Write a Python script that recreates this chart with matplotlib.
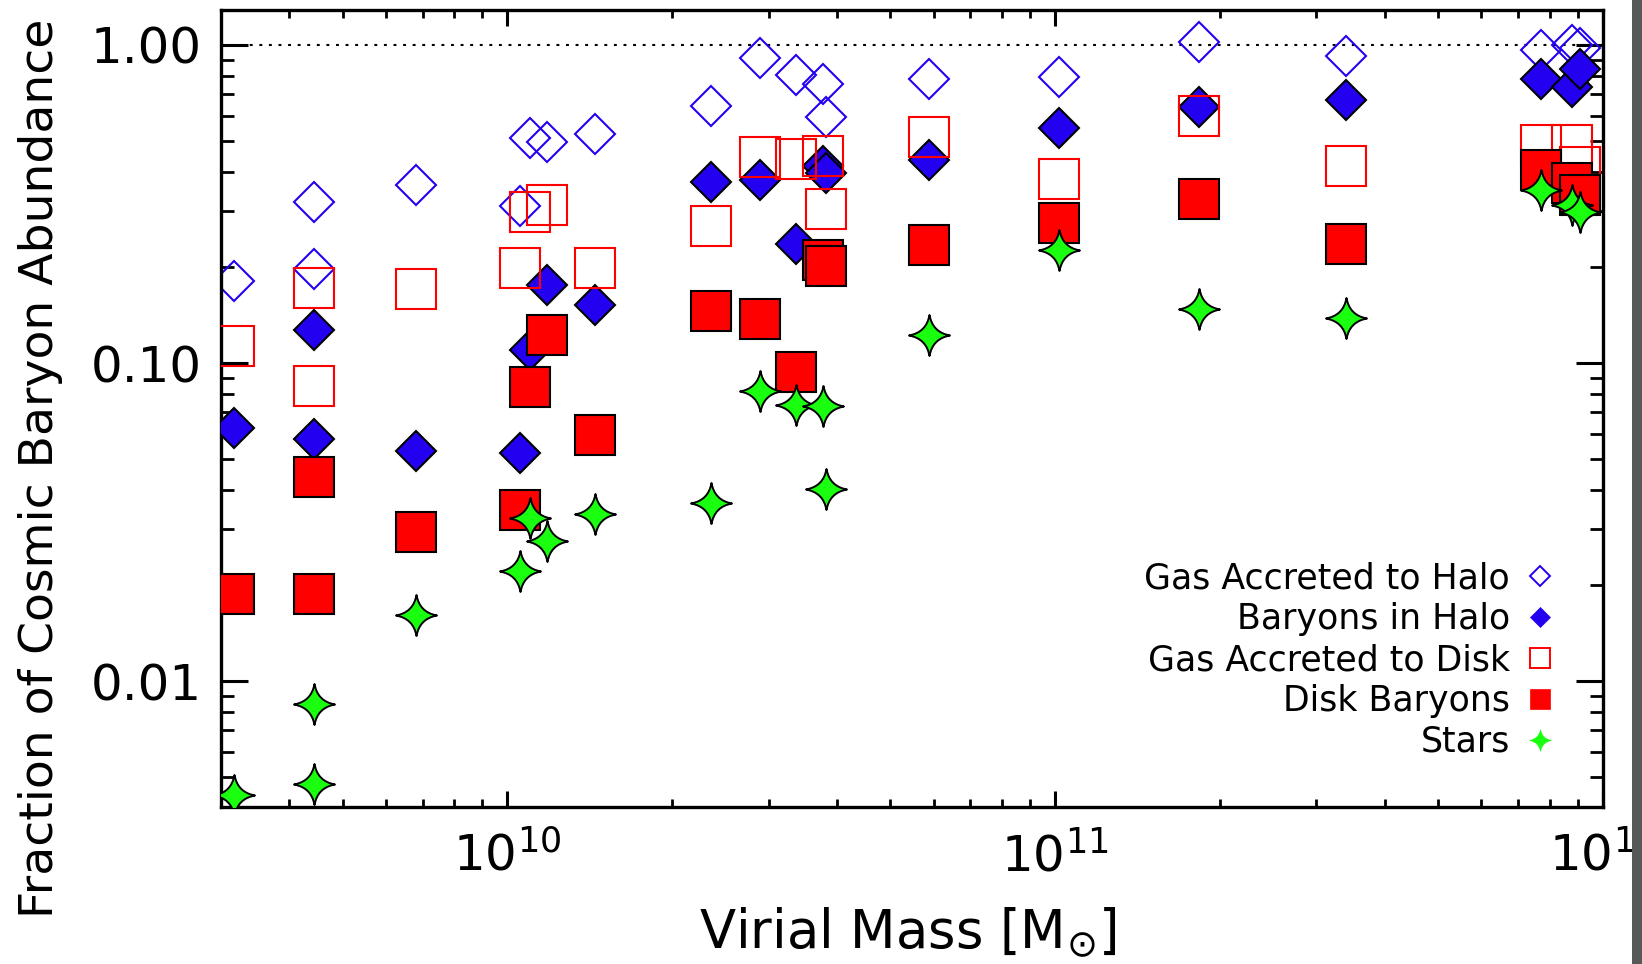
import numpy as np
import matplotlib
matplotlib.use('Agg')
import matplotlib.pyplot as plt
from matplotlib.path import Path
from matplotlib.lines import Line2D
from matplotlib.patches import Rectangle
from matplotlib.ticker import LogLocator, FuncFormatter, NullFormatter

# virial mass of each halo [Msun]
mvir = [3.17e9, 4.43e9, 4.43e9, 6.81e9, 1.053e10, 1.099e10, 1.183e10, 1.443e10,
        2.356e10, 2.894e10, 3.371e10, 3.776e10, 3.819e10, 5.89e10, 1.018e11,
        1.830e11, 3.398e11, 7.70e11, 8.78e11, 9.09e11]

# fractions of the cosmic baryon abundance
gas_acc_halo = [0.181, 0.3215, 0.1975, 0.362, 0.312, 0.509, 0.4965, 0.524,
                0.643, 0.912, 0.807, 0.755, 0.595, 0.78, 0.793,
                1.024, 0.921, 0.962, 1.00, 0.976]
baryons_halo = [0.0623, 0.1267, 0.0576, 0.0528, 0.052, 0.110, 0.1755, 0.152,
                0.372, 0.375, 0.236, 0.417, 0.395, 0.436, 0.5495,
                0.640, 0.670, 0.782, 0.736, 0.839]
gas_acc_disk = [0.113, 0.1725, 0.0847, 0.1705, 0.199, 0.2985, 0.313, 0.199,
                0.269, 0.444, 0.438, 0.447, 0.306, 0.515, 0.379,
                0.598, 0.415, 0.484, 0.485, 0.412]
disk_baryons = [0.0188, 0.0438, 0.0188, 0.0294, 0.0345, 0.0839, 0.1227, 0.0596,
                0.1457, 0.1375, 0.0937, 0.2113, 0.2023, 0.235, 0.275,
                0.327, 0.237, 0.405, 0.3675, 0.3375]
stars = [0.00438, 0.00845, 0.00474, 0.0161, 0.0222, 0.0325, 0.0275, 0.0336,
         0.0364, 0.0816, 0.0738, 0.0734, 0.0402, 0.1227, 0.226,
         0.148, 0.1385, 0.349, 0.314, 0.298]

labels = ['Gas Accreted to Halo', 'Baryons in Halo', 'Gas Accreted to Disk',
          'Disk Baryons', 'Stars']

blue = '#2300f0'
red = '#ff0000'
green = '#1aff10'

# four-pointed star with concave sides
c = 0.15
star = Path([(0, 1), (c, c), (1, 0), (c, -c), (0, -1), (-c, -c), (-1, 0), (-c, c), (0, 1), (0, 1)],
            [Path.MOVETO] + [Path.CURVE3] * 8 + [Path.CLOSEPOLY])

fig = plt.figure(figsize=(16.42, 9.64), dpi=100)
ax = fig.add_axes([0.1346, 0.1632, 0.8415, 0.8261])
ax.set_xscale('log')
ax.set_yscale('log')
ax.set_xlim(3.0e9, 1.0e12)
ax.set_ylim(0.00403, 1.285)

ax.axhline(1.0, color='black', lw=1.5, ls=(0, (1.4, 3.2)), zorder=1)

ax.plot(mvir, gas_acc_halo, ls='none', marker='D', ms=20, mfc='none', mec=blue, mew=1.5, zorder=2)
ax.plot(mvir, baryons_halo, ls='none', marker='D', ms=20, mfc=blue, mec='black', mew=1.5, zorder=3)
ax.plot(mvir, gas_acc_disk, ls='none', marker='s', ms=28.5, mfc='none', mec=red, mew=1.5, zorder=4)
ax.plot(mvir, disk_baryons, ls='none', marker='s', ms=28.5, mfc=red, mec='black', mew=1.5, zorder=5)
ax.plot(mvir, stars, ls='none', marker=star, ms=29.5, mfc=green, mec='black', mew=1.4, zorder=6)

# axes and ticks
ax.xaxis.set_major_locator(LogLocator(base=10, numticks=10))
ax.xaxis.set_minor_locator(LogLocator(base=10, subs=np.arange(2, 10), numticks=30))
ax.xaxis.set_major_formatter(FuncFormatter(lambda v, p: r'$10^{%d}$' % round(np.log10(v))))
ax.xaxis.set_minor_formatter(NullFormatter())
ax.yaxis.set_major_locator(LogLocator(base=10, numticks=10))
ax.yaxis.set_minor_locator(LogLocator(base=10, subs=np.arange(2, 10), numticks=30))
ax.yaxis.set_major_formatter(FuncFormatter(lambda v, p: '%.2f' % v))
ax.yaxis.set_minor_formatter(NullFormatter())
ax.tick_params(which='both', direction='in', top=True, right=True, color='black')
ax.tick_params(axis='x', which='major', length=11.5, width=2.2, pad=18, labelsize=36)
ax.tick_params(axis='x', which='minor', length=5.8, width=2)
ax.tick_params(axis='y', which='major', length=19.5, width=2.2, pad=14, labelsize=36)
ax.tick_params(axis='y', which='minor', length=9.4, width=2)
for s in ax.spines.values():
    s.set_linewidth(2.4)

fig.text(53 / 1642, 1 - 468 / 964, 'Fraction of Cosmic Baryon Abundance', rotation=90,
         rotation_mode='anchor', ha='center', va='baseline', fontsize=34)
fig.text(908 / 1642, 1 - 948 / 964, r'Virial Mass [M$_{\odot}$]', ha='center', va='baseline',
         fontsize=38)

# legend: plain symbols without black outlines
handles = [
    Line2D([], [], ls='none', marker='D', ms=10.5, mfc='none', mec=blue, mew=1.4),
    Line2D([], [], ls='none', marker='D', ms=10.5, mfc=blue, mec=blue, mew=0.5),
    Line2D([], [], ls='none', marker='s', ms=14, mfc='none', mec=red, mew=1.4),
    Line2D([], [], ls='none', marker='s', ms=14, mfc=red, mec=red, mew=0.5),
    Line2D([], [], ls='none', marker=star, ms=15.5, mfc=green, mec=green, mew=0.5),
]
ax.legend(handles, labels, loc='lower right', bbox_to_anchor=(0.967, 0.06), frameon=False,
          markerfirst=False, fontsize=25, handlelength=1.0, handletextpad=0.36,
          labelspacing=0.2, borderpad=0, borderaxespad=0)

# dark strip along the right edge
fig.add_artist(Rectangle((1632 / 1642, 0), 10 / 1642, 1, transform=fig.transFigure,
                         facecolor='#585858', edgecolor='none', zorder=10))

fig.savefig('out.png', dpi=100)
